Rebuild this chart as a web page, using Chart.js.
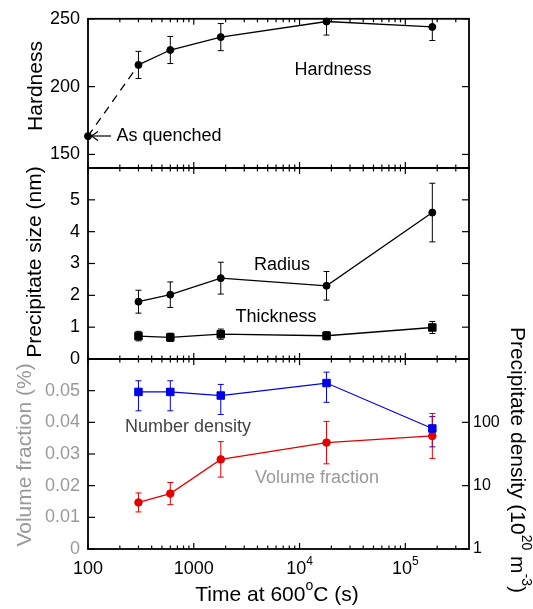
<!DOCTYPE html>
<html>
<head>
<meta charset="utf-8">
<script src="https://cdn.jsdelivr.net/npm/chart.js@4.4.0/dist/chart.umd.min.js"></script>
<style>
  html, body { margin: 0; padding: 0; background: #fff; }
  #wrap { position: relative; width: 533px; height: 609px; }
  #wrap canvas { position: absolute; left: 0; top: 0; }
</style>
</head>
<body>
<div id="wrap">
  <canvas id="hard" width="533" height="609"></canvas>
  <canvas id="size" width="533" height="609"></canvas>
  <canvas id="frac" width="533" height="609"></canvas>
</div>
<script>
// ageing time at 600 C (s)
const times = [300, 600, 1800, 18000, 180000];
const quenchedTime = 100;
const quenchedHardness = 163.5;

const hardness = [216, 227, 236.5, 248, 244];
const hardnessErr = [10, 10, 10, 10, 10];

// precipitate size (nm)
const radius = [1.8, 2.02, 2.54, 2.3, 4.6];
const radiusErr = [0.36, 0.4, 0.5, 0.45, 0.92];
const thickness = [0.72, 0.68, 0.78, 0.73, 0.99];
const thicknessErr = [0.15, 0.13, 0.16, 0.13, 0.19];

// volume fraction (%) and number density (10^20 m^-3)
const volFraction = [0.0147, 0.0175, 0.0283, 0.0336, 0.0357];
const volFractionErr = [0.003, 0.0035, 0.0056, 0.0067, 0.0071];
const density = [302, 302, 265, 417, 80];
const densityLow = [152, 152, 133, 207, 41];
const densityHigh = [453, 453, 397, 620, 123];

// ticks
const timeMajor = [100, 1000, 1e4, 1e5];
const timeMinor = [200, 300, 400, 500, 600, 700, 800, 900,
  2000, 3000, 4000, 5000, 6000, 7000, 8000, 9000,
  2e4, 3e4, 4e4, 5e4, 6e4, 7e4, 8e4, 9e4, 2e5, 3e5];
const timeLabels = [['100'], ['1000'], ['10', '4'], ['10', '5']];
const hardnessTicks = [150, 200, 250];
const sizeTicks = [0, 1, 2, 3, 4, 5];
const fracTicks = [0, 0.01, 0.02, 0.03, 0.04, 0.05];
const densityTicks = [1, 10, 100];

const FONT = "'Liberation Sans', Arial, Helvetica, sans-serif";
const GREY = '#999';
const RED = 'rgb(228,0,0)';
const BLUE = 'rgb(0,0,230)';
Chart.defaults.font.family = FONT;
Chart.defaults.color = '#000';

const pts = (xs, ys) => xs.map((x, i) => ({x: x, y: ys[i]}));

// text with optional superscript parts, centred on (x, y)
function richText(ctx, parts, x, y, size, color, rot) {
  ctx.save();
  ctx.translate(x, y);
  if (rot) ctx.rotate(rot);
  ctx.fillStyle = color || '#000';
  ctx.textBaseline = 'middle';
  ctx.textAlign = 'left';
  const fonts = parts.map(p => (p.sup ? Math.round(size * 0.65) : size) + 'px ' + FONT);
  let total = 0;
  const w = parts.map((p, i) => { ctx.font = fonts[i]; const m = ctx.measureText(p.t).width; total += m; return m; });
  let cx = -total / 2;
  parts.forEach((p, i) => {
    ctx.font = fonts[i];
    ctx.fillText(p.t, cx, p.sup ? -size * 0.4 : 0);
    cx += w[i];
  });
  ctx.restore();
}

function seg(ctx, x1, y1, x2, y2) {
  ctx.beginPath(); ctx.moveTo(x1, y1); ctx.lineTo(x2, y2); ctx.stroke();
}

const panel = {
  id: 'panel',
  beforeDatasetsDraw(chart) {
    const {ctx, chartArea: a} = chart;
    chart.data.datasets.forEach((ds, i) => {
      if (!ds.errLow) return;
      const meta = chart.getDatasetMeta(i);
      const ys = chart.scales[meta.yAxisID];
      ctx.save();
      ctx.beginPath();
      ctx.rect(a.left, a.top, a.right - a.left, a.bottom - a.top);
      ctx.clip();
      ctx.strokeStyle = ds.borderColor;
      ctx.lineWidth = 1;
      meta.data.forEach((p, j) => {
        const t = ys.getPixelForValue(ds.errHigh[j]);
        const b = ys.getPixelForValue(ds.errLow[j]);
        seg(ctx, p.x, t, p.x, b);
        seg(ctx, p.x - 3, t, p.x + 3, t);
        seg(ctx, p.x - 3, b, p.x + 3, b);
      });
      ctx.restore();
    });
  },
  afterDraw(chart, args, o) {
    const {ctx, chartArea: a} = chart;
    const xs = chart.scales.x;
    ctx.save();
    ctx.strokeStyle = '#000';
    ctx.lineWidth = 1.2;
    timeMajor.concat(timeMinor).forEach(v => {
      const px = xs.getPixelForValue(v);
      const len = timeMajor.includes(v) ? 6 : 3.5;
      seg(ctx, px, a.bottom, px, a.bottom - len);
      seg(ctx, px, a.top, px, a.top + len);
    });
    const yl = chart.scales.y;
    o.leftTicks.forEach(v => {
      const py = yl.getPixelForValue(v);
      seg(ctx, a.left, py, a.left + 7, py);
      if (o.mirror) seg(ctx, a.right, py, a.right - 7, py);
    });
    if (o.rightTicks) {
      const yr = chart.scales.y2;
      o.rightTicks.forEach(v => {
        const py = yr.getPixelForValue(v);
        seg(ctx, a.right, py, a.right - 7, py);
      });
    }
    ctx.lineWidth = 1.8;
    ctx.strokeRect(a.left, a.top, a.right - a.left, a.bottom - a.top);
    (o.texts || []).forEach(t => richText(ctx, t.parts, t.x, t.y, t.size, t.color, t.rot));
    if (o.extra) o.extra(chart, ctx);
    ctx.restore();
  }
};

function timeAxis() {
  return {type: 'logarithmic', min: 100, max: 4e5, display: false};
}

function leftAxis(min, max, ticks, color) {
  return {
    type: 'linear', min: min, max: max,
    afterBuildTicks: s => { s.ticks = ticks.map(v => ({value: v})); },
    afterFit: s => { s.width = 88; },
    grid: {display: false, drawTicks: false},
    border: {display: false},
    ticks: {font: {size: 18}, padding: 8, color: color || '#000', callback: v => String(v)}
  };
}

function baseOptions(top, bottom, right, panelOpts) {
  return {
    responsive: false,
    animation: false,
    events: [],
    layout: {padding: {left: 0, top: top, right: right, bottom: 609 - bottom}},
    plugins: {legend: {display: false}, tooltip: {enabled: false}, panel: panelOpts}
  };
}

function series(data, color, style, r, extra) {
  return Object.assign({
    data: data,
    borderColor: color,
    backgroundColor: color,
    borderWidth: 1.3,
    pointStyle: style,
    pointRadius: r,
    pointBorderWidth: 1,
    pointBackgroundColor: color,
    pointBorderColor: color,
    clip: false
  }, extra || {});
}

// --- Hardness ---
const optA = baseOptions(17, 168, 64, {
  leftTicks: hardnessTicks, mirror: true,
  texts: [
    {parts: [{t: 'Hardness'}], x: 36, y: 86, size: 21, rot: -Math.PI / 2},
    {parts: [{t: 'Hardness'}], x: 333, y: 70, size: 18},
    {parts: [{t: 'As quenched'}], x: 169, y: 136, size: 18}
  ],
  extra: (chart, ctx) => {
    ctx.lineWidth = 1.2;
    seg(ctx, 92, 136, 111, 136);
    ctx.beginPath();
    ctx.moveTo(98, 131.5); ctx.lineTo(91.5, 136); ctx.lineTo(98, 140.5);
    ctx.stroke();
  }
});
optA.scales = {x: timeAxis(), y: leftAxis(140, 250, hardnessTicks)};
new Chart(document.getElementById('hard'), {
  type: 'line',
  data: {datasets: [
    series(pts(times, hardness), '#000', 'circle', 3.5, {
      errLow: hardness.map((v, i) => v - hardnessErr[i]),
      errHigh: hardness.map((v, i) => v + hardnessErr[i])
    }),
    series([{x: quenchedTime, y: quenchedHardness}, {x: times[0], y: hardness[0]}], '#000', 'circle', [3.5, 0],
      {borderDash: [8, 6]})
  ]},
  options: optA,
  plugins: [panel]
});

// --- Precipitate size ---
const optB = baseOptions(168, 359, 64, {
  leftTicks: sizeTicks, mirror: true,
  texts: [
    {parts: [{t: 'Precipitate size (nm)'}], x: 35, y: 262, size: 21, rot: -Math.PI / 2},
    {parts: [{t: 'Radius'}], x: 282, y: 265, size: 18},
    {parts: [{t: 'Thickness'}], x: 276, y: 317, size: 18}
  ]
});
optB.scales = {x: timeAxis(), y: leftAxis(0, 6, sizeTicks)};
new Chart(document.getElementById('size'), {
  type: 'line',
  data: {datasets: [
    series(pts(times, radius), '#000', 'circle', 3.5, {
      errLow: radius.map((v, i) => v - radiusErr[i]),
      errHigh: radius.map((v, i) => v + radiusErr[i])
    }),
    series(pts(times, thickness), '#000', 'rect', 5.3, {
      errLow: thickness.map((v, i) => v - thicknessErr[i]),
      errHigh: thickness.map((v, i) => v + thicknessErr[i])
    })
  ]},
  options: optB,
  plugins: [panel]
});

// --- Volume fraction / number density ---
const optC = baseOptions(359, 549, 0, {
  leftTicks: fracTicks, rightTicks: densityTicks,
  texts: [
    {parts: [{t: 'Volume fraction (%)'}], x: 25, y: 455, size: 21, color: GREY, rot: -Math.PI / 2},
    {parts: [{t: 'Precipitate density (10'}, {t: '20', sup: true}, {t: ' m'}, {t: '-3', sup: true}, {t: ')'}],
      x: 517, y: 460, size: 21, rot: Math.PI / 2},
    {parts: [{t: 'Time at 600'}, {t: 'o', sup: true}, {t: 'C (s)'}], x: 277, y: 595, size: 21},
    {parts: [{t: 'Number density'}], x: 188, y: 427, size: 18, color: '#444'},
    {parts: [{t: 'Volume fraction'}], x: 317, y: 478, size: 18, color: GREY}
  ],
  extra: (chart, ctx) => {
    const xs = chart.scales.x;
    timeMajor.forEach((v, i) => {
      const lab = timeLabels[i];
      const parts = [{t: lab[0]}];
      if (lab[1]) parts.push({t: lab[1], sup: true});
      richText(ctx, parts, xs.getPixelForValue(v), 569, 18, '#000');
    });
  }
});
const fracAxis = leftAxis(0, 0.06, fracTicks, GREY);
optC.scales = {
  x: timeAxis(),
  y: fracAxis,
  y2: {
    type: 'logarithmic', position: 'right', min: 1, max: 1000,
    afterBuildTicks: s => { s.ticks = densityTicks.map(v => ({value: v})); },
    afterFit: s => { s.width = 64; },
    grid: {display: false, drawTicks: false},
    border: {display: false},
    ticks: {font: {size: 16}, padding: 4, color: '#000', callback: v => String(v)}
  }
};
new Chart(document.getElementById('frac'), {
  type: 'line',
  data: {datasets: [
    series(pts(times, density), BLUE, 'rect', 5.3, {
      yAxisID: 'y2', borderWidth: 1.2,
      errLow: densityLow, errHigh: densityHigh
    }),
    series(pts(times, volFraction), RED, 'circle', 3.8, {
      yAxisID: 'y', borderWidth: 1.2,
      errLow: volFraction.map((v, i) => v - volFractionErr[i]),
      errHigh: volFraction.map((v, i) => v + volFractionErr[i])
    })
  ]},
  options: optC,
  plugins: [panel]
});
</script>
</body>
</html>
